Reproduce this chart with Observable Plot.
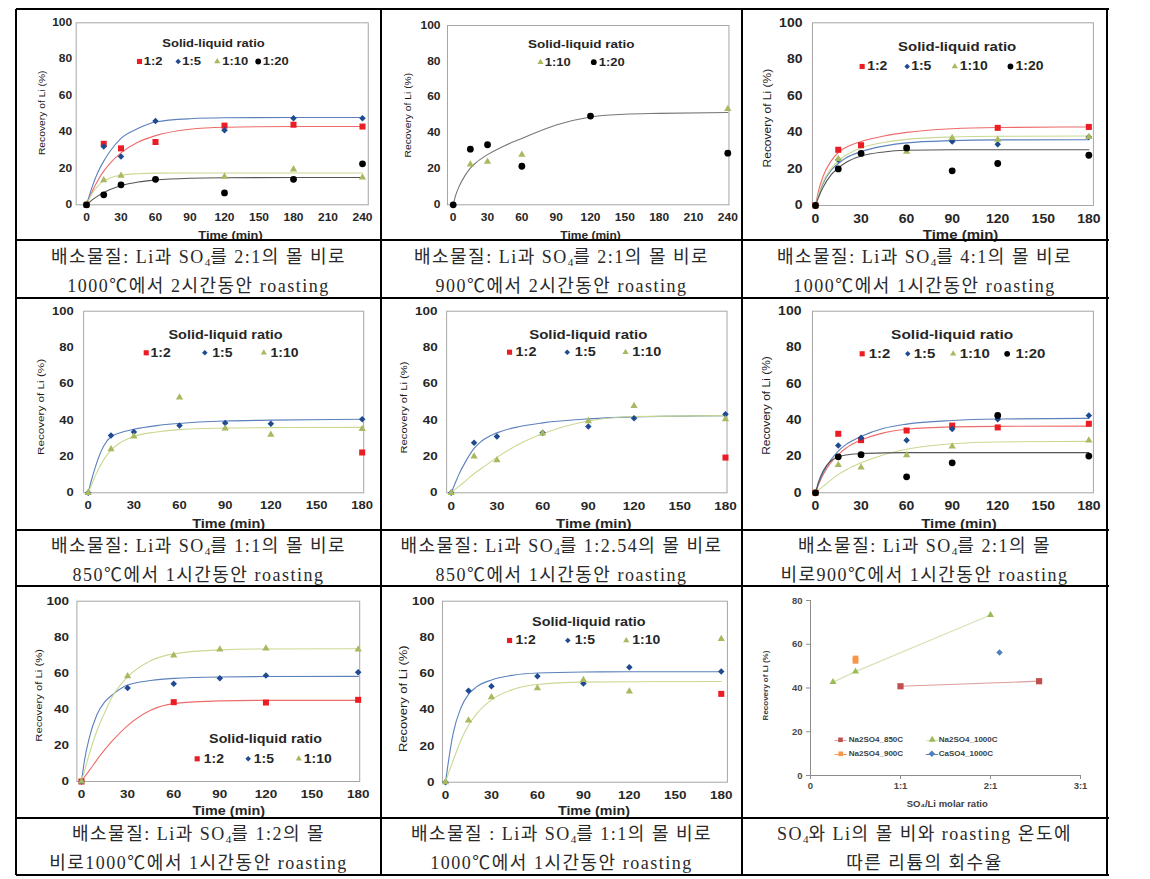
<!DOCTYPE html>
<html><head><meta charset="utf-8">
<script src="https://cdn.jsdelivr.net/npm/d3@7"></script>
<script src="https://cdn.jsdelivr.net/npm/@observablehq/plot@0.6"></script>
<style>
body{margin:0;background:#fff;}
#page{position:relative;width:1150px;height:879px;overflow:hidden;background:#fff;}
.hl{position:absolute;height:1.5px;background:#000;z-index:5;}
.vl{position:absolute;width:1.5px;background:#000;z-index:5;}
.cap{position:absolute;box-sizing:border-box;padding-top:5px;display:flex;flex-direction:column;justify-content:center;align-items:center;
 font-family:'Liberation Serif','Noto Sans CJK KR',serif;font-size:18px;color:#2a2a2a;letter-spacing:1.5px;line-height:29px;white-space:nowrap;}
.cap sub{font-size:0.62em;vertical-align:-0.25em;line-height:0;letter-spacing:0;}
.chart{position:absolute;}
</style></head>
<body><div id="page"></div>
<script>
// ---------------- DATA ----------------
const ticks240 = [0, 30, 60, 90, 120, 150, 180, 210, 240];
const ticks180 = [0, 30, 60, 90, 120, 150, 180];
const ticksY100 = [0, 20, 40, 60, 80, 100];

// (a) Li:SO4 2:1, 1000C, 2h
const a_t = [0, 15, 30, 60, 120, 180, 240];
const a_12 = [0, 33.5, 31, 34.5, 43.5, 44, 43];
const a_15 = [0, 32, 26.5, 46, 41, 47.5, 47.5];
const a_110 = [0, 13.5, 16, null, 15.5, 19.5, 15];
const a_120 = [0, 5.5, 11, 14, 6.5, 14, 22.5];
const a_ft = [0, 5, 10, 15, 20, 30, 45, 60, 90, 120, 180, 240];
const a_f12 = [0, 7.5, 13.5, 18.5, 22.5, 28.5, 34.5, 38, 41.5, 42.6, 43, 43];
const a_f15 = [0, 10, 18, 24, 29, 36.5, 42, 45.5, 47.3, 47.8, 48, 48];
const a_f110 = [0, 6.3, 10.4, 13, 14.6, 16.3, 17.1, 17.4, 17.5, 17.5, 17.5, 17.5];
const a_f120 = [0, 2.7, 4.9, 6.8, 8.3, 10.5, 12.5, 13.6, 14.6, 14.9, 15, 15];

// (b) 2:1, 900C, 2h
const b_t110 = [15, 30, 60, 240];
const b_110 = [22.5, 24, 28, 53.5];
const b_t120 = [0, 15, 30, 60, 120, 240];
const b_120 = [0, 31, 33.5, 21.5, 49.5, 28.8];
const b_ft = [0, 2, 5, 10, 15, 20, 30, 45, 60, 90, 120, 150, 180, 240];
const b_f120 = [0, 5, 10, 16, 20.5, 23.5, 28, 33, 37, 44.5, 49, 50.5, 51, 51.5];

// (c) 4:1, 1000C, 1h
const c_t = [0, 15, 30, 60, 90, 120, 180];
const c_12 = [0, 30.5, 33, null, null, 42.5, 43];
const c_15 = [0, 25, null, null, 35, 33.5, 37.5];
const c_110 = [0, 25.5, null, 29.5, 37, 36, 37.5];
const c_120 = [0, 20, 28.5, 31.5, 19, 23, 27.5];
const c_ft = [0, 2, 5, 10, 15, 20, 30, 45, 60, 90, 120, 180];
const c_f12 = [0, 8, 16, 24, 29, 31.8, 35, 38, 40, 42, 42.7, 43];
const c_f15 = [0, 5.5, 12, 19, 23, 26, 29.5, 32.5, 34.3, 35.5, 35.9, 36];
const c_f110 = [0, 6, 13, 20, 24.5, 27.5, 31.5, 34.5, 36.2, 37.5, 37.9, 38];
const c_f120 = [0, 4.5, 10, 16.5, 20.5, 23.5, 27, 29.3, 30.2, 30.5, 30.5, 30.5];

// (d) 1:1, 850C, 1h
const d_t = [0, 15, 30, 60, 90, 120, 180];
const d_15 = [0, 31.5, 33.5, 37, 38.5, 38, 40.5];
const d_110 = [0, 24, 31, 52.5, 35.5, 32, 35.2];
const d_t12 = [180];
const d_12 = [22.2];
const d_ft = [0, 2, 5, 10, 15, 20, 30, 45, 60, 90, 120, 180];
const d_f15 = [0, 6.5, 15, 25.5, 31, 32.8, 35, 37, 38.2, 39.5, 40, 40.5];
const d_f110 = [0, 4, 10, 18, 23.5, 27, 31, 33.5, 34.8, 35.6, 35.9, 36];

// (e) 1:2.54, 850C, 1h
const e_t = [0, 15, 30, 60, 90, 120, 180];
const e_15 = [0, 27.5, 31, 33, 36.5, 41, 43.2];
const e_110 = [0, 20, 18, 32.7, 39.5, 47.8, 40.5];
const e_t12 = [180];
const e_12 = [19.4];
const e_ft = [0, 2, 5, 10, 15, 20, 30, 45, 60, 90, 120, 180];
const e_f15 = [0, 4, 10, 18, 24.5, 28.5, 33, 36.5, 38.5, 40.7, 41.8, 42.5];
const e_f110 = [0, 1.5, 3.5, 7, 10.5, 13.5, 19.5, 27, 32.5, 39.5, 42, 42.5];

// (f) 2:1, 900C, 1h
const f_t = [0, 15, 30, 60, 90, 120, 180];
const f_12 = [0, 32.5, 29, 34.3, 37, 36, 38];
const f_15 = [0, 26, 30.3, 29, 35.2, 40.5, 42.6];
const f_110 = [0, 15.4, 14, 20.8, 25.5, null, 28.8];
const f_120 = [0, 19.8, 21, 8.8, 16.5, 42.6, 20.2];
const f_ft = [0, 2, 5, 10, 15, 20, 30, 45, 60, 90, 120, 180];
const f_f12 = [0, 4.5, 10, 16.5, 21, 24.5, 29, 33, 35, 36.3, 36.6, 36.7];
const f_f15 = [0, 5, 11, 18, 23, 26.5, 31, 35.5, 37.8, 39.8, 40.6, 41];
const f_f110 = [0, 1.5, 3.5, 7, 10, 12.5, 16.5, 21, 24, 27, 28, 28.3];
const f_f120 = [0, 6, 12, 17.5, 19.8, 20.8, 21.6, 22, 22.1, 22.1, 22.1, 22.1];

// (g) 1:2, 1000C, 1h
const g_t12 = [0, 60, 120, 180];
const g_12 = [0, 44, 43.8, 45.3];
const g_t = [0, 30, 60, 90, 120, 180];
const g_15 = [0, 51.8, 54.2, 57.3, 58.8, 60.6];
const g_110 = [0, 58.4, 69.9, 73.2, 73.8, 73.2];
const g_ft = [0, 2, 5, 10, 15, 20, 30, 45, 60, 90, 120, 180];
const g_f12 = [0, 2.5, 6, 12, 17.5, 22.5, 31, 39.5, 43.2, 44.7, 45, 45];
const g_f15 = [0, 12, 24, 37, 44, 48, 53.5, 56, 57.2, 58, 58.2, 58.3];
const g_f110 = [0, 6, 15, 28, 38, 47, 58, 67, 70.8, 73, 73.5, 73.6];

// (h) 1:1, 1000C, 1h
const h_t = [0, 15, 30, 60, 90, 120, 180];
const h_15 = [0, 50.5, 53, 58.6, 54.5, 63.5, 61.1];
const h_110 = [0, 34.1, 47, 51.9, 56.5, 50.1, 79.2];
const h_t12 = [180];
const h_12 = [48.8];
const h_ft = [0, 2, 5, 10, 15, 20, 30, 45, 60, 90, 120, 180];
const h_f15 = [0, 12, 27, 41, 48.5, 52.5, 56.5, 59.2, 60.3, 60.9, 61, 61];
const h_f110 = [0, 5, 12, 23, 31.5, 37.5, 45.5, 51.5, 54, 55.3, 55.5, 55.6];

// (i) summary: recovery vs SO4/Li molar ratio
const i_x850 = [1.0, 2.54];
const i_y850 = [40.8, 43.1];
const i_x1000 = [0.25, 0.5, 2.0];
const i_y1000 = [42.7, 47.5, 73.4];
const i_x900 = [0.5, 0.5];
const i_y900 = [53.5, 52.4];
const i_xCa = [2.1];
const i_yCa = [56.2];
const i_xTicks = [0, 1, 2, 3];
const i_xTickLabels = ["0", "1:1", "2:1", "3:1"];
const i_yTicks = [0, 20, 40, 60, 80];
const i_names = ["Na2SO4_850C", "Na2SO4_1000C", "Na2SO4_900C", "CaSO4_1000C"];

const captions = [
 ["배소물질: Li과 SO<sub>4</sub>를 2:1의 몰 비로", "1000℃에서 2시간동안 roasting"],
 ["배소물질: Li과 SO<sub>4</sub>를 2:1의 몰 비로", "900℃에서 2시간동안 roasting"],
 ["배소물질: Li과 SO<sub>4</sub>를 4:1의 몰 비로", "1000℃에서 1시간동안 roasting"],
 ["배소물질: Li과 SO<sub>4</sub>를 1:1의 몰 비로", "850℃에서 1시간동안 roasting"],
 ["배소물질: Li과 SO<sub>4</sub>를 1:2.54의 몰 비로", "850℃에서 1시간동안 roasting"],
 ["배소물질: Li과 SO<sub>4</sub>를 2:1의 몰", "비로900℃에서 1시간동안 roasting"],
 ["배소물질: Li과 SO<sub>4</sub>를 1:2의 몰", "비로1000℃에서 1시간동안 roasting"],
 ["배소물질 : Li과 SO<sub>4</sub>를 1:1의 몰 비로", "1000℃에서 1시간동안 roasting"],
 ["SO<sub>4</sub>와 Li의 몰 비와 roasting 온도에", "따른 리튬의 회수율"]
];

// ---------------- LAYOUT / STYLE ----------------
const COLS = [16, 381, 742, 1107];
const ROWS = [9, 240, 298, 530, 586, 818, 875];
const FONT = "'Liberation Sans', Arial, Helvetica, sans-serif";
const SQUISH = 0.85;

const diamondSym = {draw(ctx, size) { const r = Math.sqrt(size / 2); ctx.moveTo(0, -r); ctx.lineTo(r, 0); ctx.lineTo(0, r); ctx.lineTo(-r, 0); ctx.closePath(); }};
const STY = {
 "1:2": {symbol: "square", fill: "#ec1c24", r: 3.4, line: "#ef6b6b"},
 "1:5": {symbol: diamondSym, fill: "#1f4a8f", r: 2.6, line: "#5b80bb"},
 "1:10": {symbol: "triangle", fill: "#a8b95f", r: 2.7, line: "#cbd893"},
 "1:20": {symbol: "circle", fill: "#000000", r: 3.4, line: "#555555"}
};
const STY_B_LINE = "#777777";

function pts(t, v) { return t.map((x, i) => ({x, y: v[i]})).filter(d => d.y != null); }

const page = document.getElementById("page");

const panels = [
 {col: 0, row: 0, xDomain: [-9, 245], mL: 59.65, mR: 13.25, mT: 13.3, mB: 35.7, xTicks: ticks240, yPad: 4,
  fTick: 12, fTitle: 13, fItem: 13, fX: 12.8, fY: 10.3, yl: [-34, -1], xl: [8.3, 30.7],
  leg: {title: [137.35, 20.7], dy: 38.7, items: [["1:2", 63.35, 67.65], ["1:5", 102.05, 106.05], ["1:10", 141.05, 146.05], ["1:20", 182.05, 186.65]]},
  series: [
   {k: "1:2", t: a_t, v: a_12, ft: a_ft, fv: a_f12},
   {k: "1:5", t: a_t, v: a_15, ft: a_ft, fv: a_f15},
   {k: "1:10", t: a_t, v: a_110, ft: a_ft, fv: a_f110},
   {k: "1:20", t: a_t, v: a_120, ft: a_ft, fv: a_f120}]},
 {col: 1, row: 0, xDomain: [-5, 241], mL: 65.98, mR: 13.56, mT: 16, mB: 35.7, xTicks: ticks240, yPad: 7,
  fTick: 12, fTitle: 13.5, fItem: 13, fX: 12, fY: 10.3, yl: [-39.3, 0], xl: [2.3, 30.7],
  leg: {title: [133.7, 19.3], dy: 36.7, items: [["1:10", 93, 97.3], ["1:20", 146.3, 151.3]]},
  series: [
   {k: "1:20", ft: b_ft, fv: b_f120, lineColor: STY_B_LINE, t: [], v: []},
   {k: "1:10", t: b_t110, v: b_110},
   {k: "1:20", t: b_t120, v: b_120}]},
 {col: 2, row: 0, xDomain: [-2, 183], mL: 69.96, mR: 14.1, mT: 13.3, mB: 35, xTicks: ticks180, yPad: 10,
  fTick: 14, fTitle: 15, fItem: 14, fX: 15, fY: 12, yl: [-44.7, 4], xl: [7.6, 30],
  leg: {title: [144.7, 24.4], dy: 43.7, items: [["1:2", 49.7, 54.7], ["1:5", 94.7, 98.7], ["1:10", 142.3, 147.3], ["1:20", 198, 203]]},
  series: [
   {k: "1:2", t: c_t, v: c_12, ft: c_ft, fv: c_f12},
   {k: "1:5", t: c_t, v: c_15, ft: c_ft, fv: c_f15},
   {k: "1:10", t: c_t, v: c_110, ft: c_ft, fv: c_f110},
   {k: "1:20", t: c_t, v: c_120, ft: c_ft, fv: c_f120}]},
 {col: 0, row: 1, xDomain: [-3, 181], mL: 67.13, mR: 17.8, mT: 12.7, mB: 37.7, xTicks: ticks180, yPad: 10,
  fTick: 13, fTitle: 14.5, fItem: 14, fX: 14.5, fY: 11.7, yl: [-43, 5], xl: [5, 31],
  leg: {title: [141.9, 24.3], dy: 41.6, items: [["1:2", 62.6, 66.9], ["1:5", 121.2, 128.6], ["1:10", 180.2, 186.9]]},
  series: [
   {k: "1:2", t: d_t12, v: d_12},
   {k: "1:5", t: d_t, v: d_15, ft: d_ft, fv: d_f15},
   {k: "1:10", t: d_t, v: d_110, ft: d_ft, fv: d_f110}]},
 {col: 1, row: 1, xDomain: [-3, 181], mL: 65.13, mR: 15.5, mT: 12.7, mB: 37.7, xTicks: ticks180, yPad: 9,
  fTick: 13.5, fTitle: 15, fItem: 14.5, fX: 15, fY: 11.2, yl: [-42.8, 5.5], xl: [7, 31],
  leg: {title: [141.6, 23.6], dy: 41, items: [["1:2", 62.9, 68.9], ["1:5", 120.6, 128.2], ["1:10", 178.9, 185.6]]},
  series: [
   {k: "1:2", t: e_t12, v: e_12},
   {k: "1:5", t: e_t, v: e_15, ft: e_ft, fv: e_f15},
   {k: "1:10", t: e_t, v: e_110, ft: e_ft, fv: e_f110}]},
 {col: 2, row: 1, xDomain: [-2, 183], mL: 69.96, mR: 14.1, mT: 12.7, mB: 37.7, xTicks: ticks180, yPad: 11,
  fTick: 14, fTitle: 15.5, fItem: 15, fX: 15, fY: 12, yl: [-45.3, 3.5], xl: [6, 31],
  leg: {title: [139.7, 23.6], dy: 42.6, items: [["1:2", 49.7, 56.3], ["1:5", 95.3, 101.3], ["1:10", 140.7, 147.3], ["1:20", 194.7, 203]]},
  series: [
   {k: "1:2", t: f_t, v: f_12, ft: f_ft, fv: f_f12},
   {k: "1:5", t: f_t, v: f_15, ft: f_ft, fv: f_f15},
   {k: "1:10", t: f_t, v: f_110, ft: f_ft, fv: f_f110},
   {k: "1:20", t: f_t, v: f_120, ft: f_ft, fv: f_f120}]},
 {col: 0, row: 2, xDomain: [-3, 181], mL: 60.39, mR: 21.8, mT: 14.7, mB: 37, xTicks: ticks180, yPad: 8,
  fTick: 13.5, fTitle: 14.3, fItem: 14, fX: 14.4, fY: 11.3, yl: [-38, 4], xl: [10.5, 30],
  leg: {title: [188.6, 137.6], dy: 157.6, items: [["1:2", 120.3, 126.9], ["1:5", 171.3, 176.9], ["1:10", 221.9, 226.9]]},
  series: [
   {k: "1:2", t: g_t12, v: g_12, ft: g_ft, fv: g_f12},
   {k: "1:5", t: g_t, v: g_15, ft: g_ft, fv: g_f15},
   {k: "1:10", t: g_t, v: g_110, ft: g_ft, fv: g_f110}]},
 {col: 1, row: 2, xDomain: [-2, 184], mL: 60.94, mR: 15.1, mT: 14.7, mB: 36.3, xTicks: ticks180, yPad: 8,
  fTick: 13.5, fTitle: 14.4, fItem: 14, fX: 14.3, fY: 13, yl: [-38.6, 7], xl: [9, 29.3],
  leg: {title: [146.4, 21], dy: 39.3, items: [["1:2", 67.1, 73.1], ["1:5", 125.4, 132.4], ["1:10", 183.8, 189.8]]},
  series: [
   {k: "1:2", t: h_t12, v: h_12},
   {k: "1:5", t: h_t, v: h_15, ft: h_ft, fv: h_f15},
   {k: "1:10", t: h_t, v: h_110, ft: h_ft, fv: h_f110}]}
];

function addChart(svg, col, row, squish) {
 const d = document.createElement("div");
 d.className = "chart";
 d.style.left = COLS[col] + "px";
 d.style.top = ROWS[row * 2] + "px";
 d.style.width = (COLS[col + 1] - COLS[col]) + "px";
 d.style.height = (ROWS[row * 2 + 1] - ROWS[row * 2]) + "px";
 d.appendChild(svg);
 page.appendChild(d);
 if (squish && squish !== 1) {
  svg.querySelectorAll("text").forEach(t => {
   try {
    const bb = t.getBBox();
    const cy = bb.y + bb.height / 2;
    const tr = t.getAttribute("transform") || "";
    t.setAttribute("transform", `${tr} translate(0,${cy}) scale(1,${squish}) translate(0,${-cy})`);
   } catch (e) {}
  });
 }
}

for (const p of panels) {
 const W = COLS[p.col + 1] - COLS[p.col];
 const H = ROWS[p.row * 2 + 1] - ROWS[p.row * 2];
 const marks = [
  Plot.frame({stroke: "#a6a6a6", strokeWidth: 1}),
  Plot.axisX({ticks: p.xTicks, tickSize: 0, tickPadding: 8, fontSize: p.fTick, fontWeight: "bold", label: null}),
  Plot.axisY({ticks: ticksY100, tickSize: 0, tickPadding: p.yPad, fontSize: p.fTick, fontWeight: "bold", label: null})
 ];
 for (const s of p.series) if (s.fv) marks.push(Plot.line(pts(s.ft, s.fv), {x: "x", y: "y", stroke: s.lineColor || STY[s.k].line, strokeWidth: 1.1, curve: "monotone-x"}));
 for (const s of p.series) if (s.t.length) marks.push(Plot.dot(pts(s.t, s.v), {x: "x", y: "y", symbol: STY[s.k].symbol, fill: STY[s.k].fill, r: STY[s.k].r}));
 // legend
 marks.push(Plot.text(["Solid-liquid ratio"], {text: d => d, frameAnchor: "top-left", dx: p.leg.title[0], dy: p.leg.title[1], textAnchor: "middle", lineAnchor: "middle", fontSize: p.fTitle, fontWeight: "bold", fill: "#262626"}));
 for (const [name, mdx, tdx] of p.leg.items) {
  marks.push(Plot.dot([name], {frameAnchor: "top-left", dx: mdx, dy: p.leg.dy, symbol: STY[name].symbol, fill: STY[name].fill, r: STY[name].r * 0.85}));
  marks.push(Plot.text([name], {text: d => d, frameAnchor: "top-left", dx: tdx, dy: p.leg.dy, textAnchor: "start", lineAnchor: "middle", fontSize: p.fItem, fontWeight: "bold", fill: "#262626"}));
 }
 marks.push(Plot.text(["Recovery of Li (%)"], {text: d => d, frameAnchor: "left", dx: p.yl[0], dy: p.yl[1], rotate: -90, textAnchor: "middle", lineAnchor: "middle", fontSize: p.fY, fontWeight: "normal", fill: "#1a1a1a"}));
 marks.push(Plot.text(["Time (min)"], {text: d => d, frameAnchor: "bottom", dx: p.xl[0], dy: p.xl[1], textAnchor: "middle", lineAnchor: "middle", fontSize: p.fX, fontWeight: "bold", fill: "#262626"}));
 const svg = Plot.plot({
  width: W, height: H,
  marginLeft: p.mL, marginRight: p.mR, marginTop: p.mT, marginBottom: p.mB,
  x: {domain: p.xDomain}, y: {domain: [0, 100]},
  style: {fontFamily: FONT, fontWeight: "bold", color: "#262626", background: "transparent", overflow: "visible"},
  marks
 });
 addChart(svg, p.col, p.row, SQUISH);
}

// summary panel (i)
{
 const col = 2, row = 2;
 const W = COLS[col + 1] - COLS[col];
 const H = ROWS[row * 2 + 1] - ROWS[row * 2];
 const ax = "#8c8c8c";
 const lg = [
  {name: i_names[0], sym: "square", fill: "#c0504d", line: "#dc9d9b", mdx: 30, tdx: 38.3, dy: 139.3},
  {name: i_names[1], sym: "triangle", fill: "#9bbb59", line: "#d7e3b5", mdx: 121.7, tdx: 128.3, dy: 139.3},
  {name: i_names[2], sym: "square", fill: "#f79646", line: "#f79646", mdx: 30.3, tdx: 38.3, dy: 153.3},
  {name: i_names[3], sym: diamondSym, fill: "#4f81bd", line: "#4f81bd", mdx: 121.3, tdx: 128.3, dy: 153.3}
 ];
 const marks = [
  Plot.ruleX([0], {stroke: ax}),
  Plot.ruleY([0], {stroke: ax}),
  Plot.axisX({ticks: i_xTicks, tickFormat: d => i_xTickLabels[i_xTicks.indexOf(d)], tickSize: 4, tickPadding: 3, stroke: ax, fontSize: 9.5, fontWeight: "bold", label: null}),
  Plot.axisY({ticks: i_yTicks, tickSize: 4, tickPadding: 4, stroke: ax, fontSize: 9.5, fontWeight: "bold", label: null}),
  Plot.line(pts(i_x850, i_y850), {x: "x", y: "y", stroke: lg[0].line, strokeWidth: 1.2}),
  Plot.line(pts(i_x1000, i_y1000), {x: "x", y: "y", stroke: lg[1].line, strokeWidth: 1.2}),
  Plot.line(pts(i_x900, i_y900), {x: "x", y: "y", stroke: lg[2].line, strokeWidth: 1.2}),
  Plot.dot(pts(i_x850, i_y850), {x: "x", y: "y", symbol: "square", fill: "#c0504d", r: 3.5}),
  Plot.dot(pts(i_x1000, i_y1000), {x: "x", y: "y", symbol: "triangle", fill: "#9bbb59", r: 2.6}),
  Plot.dot(pts(i_x900, i_y900), {x: "x", y: "y", symbol: "square", fill: "#f79646", r: 3.2}),
  Plot.dot(pts(i_xCa, i_yCa), {x: "x", y: "y", symbol: diamondSym, fill: "#4f81bd", r: 2.6})
 ];
 for (const l of lg) {
  marks.push(Plot.text(["\u2014"], {text: d => d, frameAnchor: "top-left", dx: l.mdx, dy: l.dy, textAnchor: "middle", lineAnchor: "middle", fontSize: 12, fontWeight: "normal", fill: l.line}));
  marks.push(Plot.dot([l.name], {frameAnchor: "top-left", dx: l.mdx, dy: l.dy, symbol: l.sym, fill: l.fill, r: 2.6}));
  marks.push(Plot.text([l.name], {text: d => d, frameAnchor: "top-left", dx: l.tdx, dy: l.dy, textAnchor: "start", lineAnchor: "middle", fontSize: 8, fontWeight: "bold", fill: "#404040"}));
 }
 marks.push(Plot.text(["Recovery of Li (%)"], {text: d => d, frameAnchor: "left", dx: -45, dy: -2.5, rotate: -90, textAnchor: "middle", lineAnchor: "middle", fontSize: 8, fontWeight: "bold", fill: "#404040"}));
 marks.push(Plot.text(["SO\u2084/Li molar ratio"], {text: d => d, frameAnchor: "bottom", dx: 1.7, dy: 28.3, textAnchor: "middle", lineAnchor: "middle", fontSize: 9.5, fontWeight: "bold", fill: "#404040"}));
 const svg = Plot.plot({
  width: W, height: H, marginLeft: 68, marginRight: 27, marginTop: 14, marginBottom: 43,
  x: {domain: [0, 3]}, y: {domain: [0, 80]},
  style: {fontFamily: FONT, fontWeight: "bold", color: "#4a4a4a", background: "transparent", overflow: "visible"},
  marks
 });
 addChart(svg, col, row, 1);
}

// captions
captions.forEach((lines, idx) => {
 const col = idx % 3, row = Math.floor(idx / 3);
 const d = document.createElement("div");
 d.className = "cap";
 d.style.left = COLS[col] + "px";
 d.style.top = ROWS[row * 2 + 1] + "px";
 d.style.width = (COLS[col + 1] - COLS[col]) + "px";
 d.style.height = (ROWS[row * 2 + 2] - ROWS[row * 2 + 1]) + "px";
 d.innerHTML = lines.map(s => "<div>" + s + "</div>").join("");
 page.appendChild(d);
});

// table grid lines
for (const y of ROWS) {
 const l = document.createElement("div");
 l.className = "hl";
 l.style.left = COLS[0] + "px"; l.style.top = (y - 0.75) + "px";
 l.style.width = (COLS[3] - COLS[0] + 1.5) + "px";
 page.appendChild(l);
}
for (const x of COLS) {
 const l = document.createElement("div");
 l.className = "vl";
 l.style.left = (x - 0.75) + "px"; l.style.top = ROWS[0] + "px";
 l.style.height = (ROWS[6] - ROWS[0]) + "px";
 page.appendChild(l);
}
</script></body></html>
